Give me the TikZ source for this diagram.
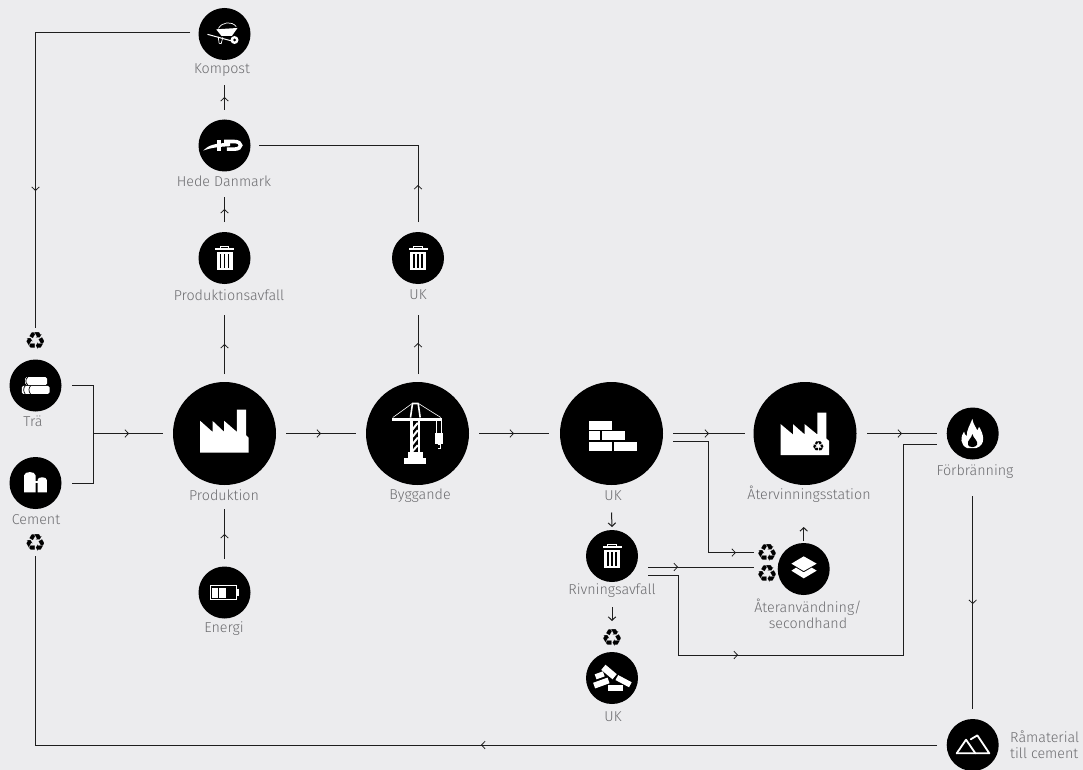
\documentclass[tikz,border=0pt]{standalone}
\usepackage{fontspec}
\setmainfont{Fira Sans Light}
\newfontfamily\symfont{DejaVu Sans}
\usetikzlibrary{calc,arrows.meta,decorations.markings}
\definecolor{bgc}{HTML}{ECECEE}
\definecolor{lblc}{HTML}{6C6C6F}
\definecolor{linec}{HTML}{1E1E1E}
\tikzset{
  big/.style={circle,fill=black,minimum size=103pt,inner sep=0pt,outer sep=0pt},
  small/.style={circle,fill=black,minimum size=52pt,inner sep=0pt,outer sep=0pt},
  lbl/.style={text=lblc,font=\fontsize{14.3pt}{16pt}\selectfont,inner sep=0pt,align=center},
  rec/.style={minimum size=26pt,inner sep=0pt,outer sep=0pt,font=\symfont\fontsize{24pt}{24pt}\selectfont,text=black},
  conn/.style={draw=linec,line width=1pt},
  arrowat/.style={postaction={decorate,decoration={markings,mark=at position #1 with {\arrow[linec,line width=.8pt]{Straight Barb[length=3.5pt,width=7.5pt]}}}}},
  stub/.style={draw=linec,line width=1pt,-{Straight Barb[length=3.5pt,width=7.5pt]}},
  zm/.style n args={2}{x=0.33333pt,y=-0.33333pt,shift={(-#1,-#2)}},
  factory/.pic={\begin{scope}[zm={673}{340}]
    \fill[white] (600,302)--(637,335)--(637,302)--(672,335)--(672,302)--(710,335)--(710,268)--(738,268)--(738,345)--(745,352)--(745,397)--(600,397)--cycle;
  \end{scope}},
  trash/.pic={\begin{scope}[zm={673}{775}]
    \fill[white] (650,756) rectangle (697,810);
    \foreach \s in {661,673,685} \fill[black] (\s-1.6,762) rectangle (\s+1.6,804);
    \fill[white] (645,745) rectangle (702,752);
    \draw[white,line width=.7pt] (660,745)--(660,739)--(685,739)--(685,745);
  \end{scope}},
  barrow/.pic={\begin{scope}[zm={673}{102}]
    \fill[white] (648,88)--(712,84)--(695,108)--(664,108)--cycle;
    \draw[white,line width=.7pt] (655,85) .. controls (665,66) and (695,62) .. (708,80);
    \draw[white,line width=1pt] (622,103)--(695,123);
    \draw[white,line width=.7pt] (654,110)--(657,130)--(663,131)--(668,112);
    \fill[white] (703,120) circle (12);
    \fill[black] (703,120) circle (4.5);
  \end{scope}},
  hdlogo/.pic={\begin{scope}[zm={673}{436}]
    \fill[white] (609,451) .. controls (625,436) and (640,429) .. (690,428) -- (690,438) .. controls (650,440) and (630,444) .. cycle;
    \fill[white] (650,419) rectangle (662,453);
    \draw[white,line width=3.6pt] (672,424)--(702,424) .. controls (728,424) and (728,447) .. (702,447)--(680,447);
  \end{scope}},
  logs/.pic={\begin{scope}[zm={107}{197}]
    \fill[white,rounded corners=1.5pt] (76,172) rectangle (142,195);
    \fill[white,rounded corners=1.5pt] (66,198) rectangle (149,222);
    \draw[black,line width=.7pt] (84,172) .. controls (76,178) and (76,189) .. (84,195);
    \draw[black,line width=.7pt] (76,198) .. controls (70,204) and (70,216) .. (76,222);
    \draw[black,line width=.7pt] (92,198) .. controls (86,204) and (86,216) .. (92,222);
  \end{scope}},
  silos/.pic={\begin{scope}[zm={107}{489}]
    \fill[white] (73,517)--(73,466) .. controls (73,453) and (107,453) .. (107,466)--(107,517)--cycle;
    \fill[white] (113,517)--(113,480) .. controls (113,469) and (141,469) .. (141,480)--(141,517)--cycle;
    \fill[white] (105,484) rectangle (115,490);
  \end{scope}},
  battery/.pic={\begin{scope}[zm={673}{818}]
    \draw[white,line width=1.3pt] (630,798) rectangle (708,840);
    \fill[white] (636,803) rectangle (652,835);
    \fill[white] (657,803) rectangle (678,835);
    \fill[white] (709,808) rectangle (717,828);
  \end{scope}},
  crane/.pic={\begin{scope}[zm={202}{190}]
    \fill[white] (162,263) rectangle (228,282);
    \fill[white] (172,245) rectangle (218,263);
    \fill[white] (180,152) rectangle (187,245);
    \fill[white] (203,152) rectangle (210,245);
    \fill[white] (126,142) rectangle (275,152);
    \draw[white,line width=2pt] (187,178)--(203,158) (187,200)--(203,180) (187,222)--(203,202) (187,243)--(203,225);
    \draw[white,line width=1.6pt] (186,100)--(205,100) (187,100)--(181,142) (204,100)--(210,142);
    \draw[white,line width=.6pt] (128,142)--(186,100) (272,142)--(205,100);
    \draw[white,line width=.8pt] (260,152)--(260,188) (273,152)--(273,188);
    \fill[white] (255,188) rectangle (279,220);
    \draw[white,line width=.7pt] (262,224)--(271,224)--(271,236)--(263,236);
  \end{scope}},
  bricks/.pic={\begin{scope}[zm={785}{190}]
    \fill[white] (717,152) rectangle (787,178);
    \fill[white] (717,183) rectangle (750,210);
    \fill[white] (755,183) rectangle (825,210);
    \fill[white] (717,214) rectangle (787,241);
    \fill[white] (792,214) rectangle (861,241);
  \end{scope}},
  recfactory/.pic={\begin{scope}[zm={196}{190}]
    \fill[white] (123,162)--(160,193)--(160,162)--(195,193)--(195,162)--(233,193)--(233,127)--(260,127)--(260,205)--(268,212)--(268,255)--(123,255)--cycle;
    \node[inner sep=0pt,text=black,font=\symfont\fontsize{14pt}{14pt}\selectfont] at (236,228) {\char"267B};
  \end{scope}},
  flame/.pic={\begin{scope}[zm={698}{190}]
    \fill[white] (697,146) .. controls (700,165) and (708,170) .. (712,181) .. controls (715,176) and (716,173) .. (717,170) .. controls (730,190) and (740,224) .. (708,234) -- (682,234) .. controls (660,225) and (660,200) .. (672,184) .. controls (673,190) and (675,195) .. (680,198) .. controls (680,178) and (690,165) .. cycle;
    \fill[black] (697,192) .. controls (695,205) and (680,210) .. (684,224) .. controls (688,233) and (705,233) .. (711,224) .. controls (716,213) and (700,205) .. cycle;
  \end{scope}},
  layers/.pic={\begin{scope}[zm={731}{208}]
    \fill[white] (731,170)--(770,192)--(731,214)--(694,192)--cycle;
    \fill[white] (708,204)--(731,218)--(755,204)--(770,213)--(731,236)--(694,213)--cycle;
  \end{scope}},
  rubble/.pic={\begin{scope}[zm={157}{533}]
    \fill[white,rotate around={-40:(148,515)}] (126,505) rectangle (170,525);
    \fill[white,rotate around={20:(120,525)}] (107,517) rectangle (133,533);
    \fill[white,rotate around={20:(125,548)}] (102,539) rectangle (148,557);
    \fill[white,rotate around={-28:(192,542)}] (169,534) rectangle (215,551);
    \fill[white] (144,553) rectangle (190,571);
  \end{scope}},
  mountain/.pic={\begin{scope}[zm={218}{165}]
    \draw[white,line width=1.8pt,line join=round,line cap=round] (170,190)--(198,149)--(226,190);
    \draw[white,line width=1.8pt,line join=round,line cap=round] (212,148)--(232,136)--(268,190)--(170,190);
  \end{scope}},
}
\begin{document}
\begin{tikzpicture}[x=1pt,y=-1pt]
\useasboundingbox (0,0) rectangle (1083,770);
\fill[bgc] (0,0) rectangle (1083,770);
% nodes
\node[small] (komp) at (224.5,34) {};
\node[small] (hede) at (224.5,145.5) {};
\node[small] (pavf) at (224.5,258) {};
\node[small] (ukt) at (418,258) {};
\node[small] (tra) at (35.5,385.5) {};
\node[small] (cem) at (35.5,483) {};
\node[big] (prod) at (224.5,433.5) {};
\node[small] (ener) at (224.5,592.5) {};
\node[big] (bygg) at (417.5,433.5) {};
\node[big] (uk) at (611.5,433.5) {};
\node[big] (ater) at (805,433.5) {};
\node[small] (forb) at (972.7,433.5) {};
\node[small] (riv) at (612,556) {};
\node[small] (ukb) at (612,678) {};
\node[small] (lay) at (803.7,569) {};
\node[small] (ram) at (972.7,745) {};
% recycling marks
\node[rec] (rec1) at (35.5,341) {\char"267B};
\node[rec] (rec2) at (35.5,543) {\char"267B};
\node[rec] (rec3) at (767,552.6) {\char"267B};
\node[rec] (rec4) at (767,573.8) {\char"267B};
\node[rec] (rec5) at (612,638) {\char"267B};
% icons
\pic at (komp) {barrow};
\pic at (hede) {hdlogo};
\pic at (pavf) {trash};
\pic at (ukt) {trash};
\pic at (riv) {trash};
\pic at (tra) {logs};
\pic at (cem) {silos};
\pic at (prod) {factory};
\pic at (ener) {battery};
\pic at (bygg) {crane};
\pic at (uk) {bricks};
\pic at (ater) {recfactory};
\pic at (forb) {flame};
\pic at (lay) {layers};
\pic at (ukb) {rubble};
\pic at (ram) {mountain};
% labels
\node[lbl] (lkomp) at (222,70.5) {Kompost};
\node[lbl] (lhede) at (224,181.5) {Hede Danmark};
\node[lbl] (lpavf) at (229,295) {Produktionsavfall};
\node[lbl] (lukt) at (418,295) {UK};
\node[lbl] (ltra) at (33,421.5) {Trä};
\node[lbl] (lcem) at (36,519.5) {Cement};
\node[lbl] (lprod) at (224,495) {Produktion};
\node[lbl] (lener) at (224,628.5) {Energi};
\node[lbl] (lbygg) at (420,495.5) {Byggande};
\node[lbl] (luk) at (613,495.5) {UK};
\node[lbl] (later) at (809,494.5) {Återvinningsstation};
\node[lbl] (lforb) at (975,471.5) {Förbränning};
\node[lbl] (lriv) at (612,591) {Rivningsavfall};
\node[lbl] (llay) at (808,614) {Återanvändning/\\secondhand};
\node[lbl] (lukb) at (613,716.5) {UK};
\node[lbl,anchor=west,align=left] (lram) at (1010,745) {Råmaterial\\till cement};
% connectors
\draw[conn,arrowat=312.5pt] ($(komp)+(-34.5,-1)$) -| (rec1.north);
\draw[conn,arrowat=13pt] ($(hede)+(0,-35.5)$) -- ($(komp)+(0,51)$);
\draw[conn,arrowat=13pt] ($(pavf)+(0,-36)$) -- ($(hede)+(0,51.5)$);
\draw[conn,arrowat=30pt] ($(prod)+(0,-59.5)$) -- ($(pavf)+(0,57)$);
\draw[conn,arrowat=31pt] ($(bygg)+(.5,-59.5)$) -- ($(ukt)+(0,57)$);
\draw[conn,arrowat=37pt] ($(ukt)+(0,-36)$) |- ($(hede)+(34,0)$);
\draw[conn] ($(tra)+(36.5,0)$) -| (93,433.5);
\draw[conn] ($(cem)+(36.5,0)$) -| (93,433.5);
\draw[conn,arrowat=36pt] (93,433.5) -- ($(prod)+(-61.5,0)$);
\draw[conn,arrowat=25pt] ($(ener)+(0,-33.5)$) -- ($(prod)+(0,75.5)$);
\draw[conn,arrowat=35pt] ($(prod)+(61.5,0)$) -- ($(bygg)+(-61.5,0)$);
\draw[conn,arrowat=35pt] ($(bygg)+(61.5,0)$) -- ($(uk)+(-62.5,0)$);
\draw[conn,arrowat=36pt] ($(uk)+(61.5,0)$) -- ($(ater)+(-60,0)$);
\draw[conn,arrowat=174pt] ($(uk)+(61.5,8)$) -| (708,552.6) -- (rec3.west);
\draw[conn,arrowat=35pt] ($(ater)+(62,0)$) -- ($(forb)+(-35.7,0)$);
\draw[conn,arrowat=30pt] ($(riv)+(36,11)$) -- ($(rec4.west)+(0,-6.8)$);
\draw[conn,arrowat=170pt] ($(riv)+(36,19)$) -| (678,655) -| (903.5,444) -- ($(forb)+(-35.7,10.5)$);
\draw[conn,arrowat=108pt] ($(forb)+(0,62.5)$) -- ($(ram)+(0,-36)$);
\draw[conn,arrowat=456pt] ($(ram)+(-35.7,0)$) -| (rec2.south);
\draw[stub] ($(uk)+(0,79)$) -- ($(riv)+(0,-29)$);
\draw[stub] ($(riv)+(0,51)$) -- ($(rec5)+(0,-17)$);
\draw[stub] ($(lay)+(0,-28)$) -- ($(lay)+(0,-42)$);
\end{tikzpicture}
\end{document}
